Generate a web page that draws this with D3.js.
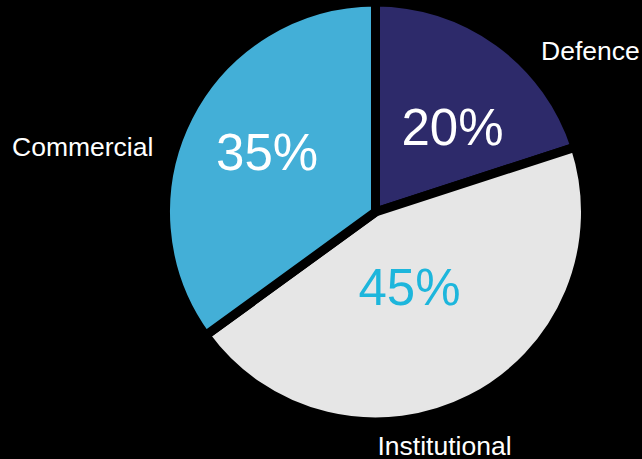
<!DOCTYPE html>
<html>
<head>
<meta charset="utf-8">
<script src="https://cdn.jsdelivr.net/npm/d3@7"></script>
<style>
  html, body { margin: 0; padding: 0; background: #000; }
  svg { display: block; }
</style>
</head>
<body>
<svg id="chart" width="642" height="459"></svg>
<script>
const categories = ["Defence", "Institutional", "Commercial"];
const values = [20, 45, 35];
const percentLabels = ["20%", "45%", "35%"];

const colors = ["#2d2a6a", "#e6e6e6", "#43afd7"];
const pctColors = ["#ffffff", "#1db6dc", "#ffffff"];

const W = 642, H = 459;
const cx = 375.5, cy = 212;
const R = 210;

const svg = d3.select("#chart");
svg.append("rect").attr("width", W).attr("height", H).attr("fill", "#000");

const data = categories.map((c, i) => ({ cat: c, value: values[i], pct: percentLabels[i], i }));

const pie = d3.pie().value(d => d.value).sort(null).startAngle(0).endAngle(2 * Math.PI);
const arc = d3.arc().innerRadius(0).outerRadius(R);
const arcs = pie(data);

const g = svg.append("g").attr("transform", `translate(${cx},${cy})`);

g.selectAll("path.slice")
  .data(arcs)
  .join("path")
  .attr("class", "slice")
  .attr("d", arc)
  .attr("fill", d => colors[d.data.i])
  .attr("stroke", "#000")
  .attr("stroke-width", 9)
  .attr("stroke-linejoin", "miter");

// percentage labels: radius and angle offset relative to slice mid-angle
const pctLayout = [
  { r: 115, dAng: 6 },
  { r: 82, dAng: 2.5 },
  { r: 124, dAng: 2 }
];

g.selectAll("text.pct")
  .data(arcs)
  .join("text")
  .attr("class", "pct")
  .attr("transform", d => {
    const L = pctLayout[d.data.i];
    const a = (d.startAngle + d.endAngle) / 2 + L.dAng * Math.PI / 180;
    return `translate(${L.r * Math.sin(a)},${-L.r * Math.cos(a)})`;
  })
  .attr("text-anchor", "middle")
  .attr("dy", "0.36em")
  .attr("font-family", "'Liberation Sans', Arial, sans-serif")
  .attr("font-size", 51)
  .attr("fill", d => pctColors[d.data.i])
  .text(d => d.data.pct);

// category labels outside
const catLayout = [
  { x: 541, y: 60, anchor: "start" },
  { x: 444.5, y: 455, anchor: "middle" },
  { x: 12, y: 156, anchor: "start" }
];

svg.selectAll("text.cat")
  .data(data)
  .join("text")
  .attr("class", "cat")
  .attr("x", d => catLayout[d.i].x)
  .attr("y", d => catLayout[d.i].y)
  .attr("text-anchor", d => catLayout[d.i].anchor)
  .attr("font-family", "'Liberation Sans', Arial, sans-serif")
  .attr("font-size", 26.5)
  .attr("fill", "#ffffff")
  .text(d => d.cat);
</script>
</body>
</html>
